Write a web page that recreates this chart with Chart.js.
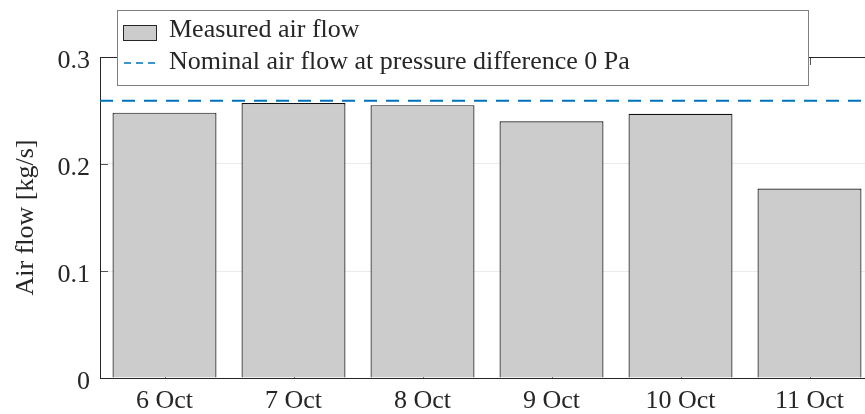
<!DOCTYPE html>
<html>
<head>
<meta charset="utf-8">
<script src="https://cdn.jsdelivr.net/npm/chart.js@4.4.1/dist/chart.umd.min.js"></script>
<style>
  html, body { margin: 0; padding: 0; background: #fff; overflow: hidden; }
  #wrap { width: 880px; height: 414px; }
</style>
</head>
<body>
<div id="wrap"><canvas id="flowChart" width="880" height="414"></canvas></div>
<script>
const days = ['6 Oct', '7 Oct', '8 Oct', '9 Oct', '10 Oct', '11 Oct'];
const measuredFlow = [0.248, 0.257, 0.255, 0.240, 0.247, 0.177];
const nominalFlow = 0.259;
const yTicks = [0, 0.1, 0.2, 0.3];

const FONT = "'Liberation Serif', 'Times New Roman', serif";
const AXIS = '#262626';

// box, inward ticks (drawn under the bars like matlab does)
const boxPlugin = {
    id: 'box',
    beforeDatasetsDraw(chart) {
        const {ctx, chartArea: a, scales} = chart;
        ctx.save();
        ctx.strokeStyle = '#555';
        ctx.lineWidth = 1;
        ctx.beginPath();
        yTicks.forEach(v => {
            const y = Math.round(scales.y.getPixelForValue(v)) + 0.5;
            ctx.moveTo(a.left, y); ctx.lineTo(a.left + 8, y);
        });
        days.forEach((d, i) => {
            const x = Math.round(scales.x.getPixelForValue(i)) + 0.5;
            ctx.moveTo(x, a.top); ctx.lineTo(x, a.top + 8);
            ctx.moveTo(x, a.bottom); ctx.lineTo(x, a.bottom - 8);
        });
        ctx.stroke();
        ctx.strokeStyle = AXIS;
        ctx.strokeRect(a.left + 0.5, a.top + 0.5, a.right - a.left - 1, a.bottom - a.top);
        ctx.restore();
    },
    afterDraw(chart) {
        const {ctx} = chart;
        const ds = chart.data.datasets;
        ctx.save();
        ctx.fillStyle = '#fff';
        ctx.fillRect(117, 10, 691, 75);
        ctx.strokeStyle = '#808080';
        ctx.lineWidth = 1;
        ctx.strokeRect(117.5, 10.5, 691, 75);

        ctx.fillStyle = '#cccccc';
        ctx.fillRect(123.5, 25.5, 33, 15);
        ctx.strokeStyle = AXIS;
        ctx.strokeRect(123.5, 25.5, 33, 15);

        ctx.strokeStyle = '#0072BD';
        ctx.lineWidth = 1.5;
        ctx.setLineDash([7, 5]);
        ctx.beginPath();
        ctx.moveTo(124, 63); ctx.lineTo(157, 63);
        ctx.stroke();
        ctx.setLineDash([]);

        ctx.fillStyle = AXIS;
        ctx.font = '26px ' + FONT;
        ctx.textBaseline = 'alphabetic';
        ctx.fillText(ds[1].label, 169, 37);
        ctx.fillText(ds[0].label, 169, 69);
        ctx.restore();
    }
};

new Chart(document.getElementById('flowChart'), {
    type: 'bar',
    data: {
        labels: days,
        datasets: [{
            type: 'line',
            label: 'Nominal air flow at pressure difference 0 Pa',
            data: [{x: 0, y: nominalFlow}, {x: 1, y: nominalFlow}],
            xAxisID: 'xl',
            borderColor: '#0072BD',
            borderWidth: 2,
            borderDash: [13, 9],
            pointRadius: 0,
            fill: false
        }, {
            label: 'Measured air flow',
            data: measuredFlow,
            backgroundColor: '#cccccc',
            borderColor: '#111',
            borderWidth: 1.2,
            grouped: false,
            barPercentage: 0.806,
            categoryPercentage: 1
        }]
    },
    options: {
        responsive: false,
        animation: false,
        devicePixelRatio: 1,
        layout: { padding: { top: 57, right: 6, bottom: 0, left: 0 } },
        plugins: { legend: { display: false }, tooltip: { enabled: false } },
        scales: {
            x: {
                type: 'category',
                offset: true,
                grid: { display: false, drawTicks: false },
                border: { display: false },
                ticks: { color: AXIS, font: { family: FONT, size: 26 }, padding: 8, maxRotation: 0 },
                afterFit(s) { s.height = 36; }
            },
            xl: { type: 'linear', min: 0, max: 1, offset: false, grid: { offset: false }, display: false },
            y: {
                min: 0, max: 0.3,
                grid: {
                    drawTicks: false,
                    color: c => (c.tick.value > 0 && c.tick.value < 0.3) ? '#ebebeb' : 'rgba(0,0,0,0)'
                },
                border: { display: false },
                afterBuildTicks(s) { s.ticks = yTicks.map(v => ({value: v})); },
                ticks: {
                    color: AXIS,
                    font: { family: FONT, size: 26 },
                    padding: 10,
                    labelOffset: 4,
                    callback: v => String(+v.toFixed(1))
                },
                title: {
                    display: true,
                    text: 'Air flow [kg/s]',
                    color: AXIS,
                    font: { family: FONT, size: 26 },
                    padding: { top: 11, bottom: 0 }
                },
                afterFit(s) { s.width = 100; }
            }
        }
    },
    plugins: [boxPlugin]
});
</script>
</body>
</html>
